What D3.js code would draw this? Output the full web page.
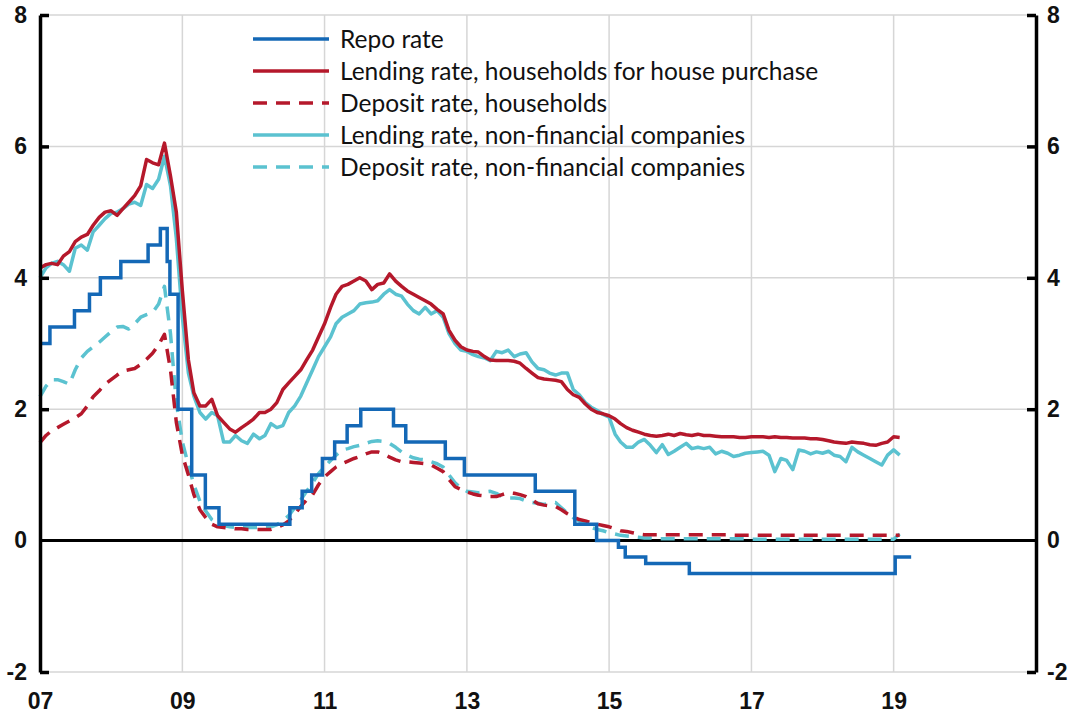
<!DOCTYPE html>
<html>
<head>
<meta charset="utf-8">
<script src="https://cdn.jsdelivr.net/npm/d3@7"></script>
<style>
  body { margin: 0; background: #fff; }
  svg { display: block; font-family: Lato, "Open Sans", sans-serif; }
  .grid line { stroke: #d6d6d6; stroke-width: 1.5; }
  .axis path, .axis line { stroke: #000; stroke-width: 3.5; }
  .axis text { font-size: 23px; font-weight: bold; fill: #111; }
  .legend text { font-size: 24.5px; fill: #111; }
</style>
</head>
<body>
<svg id="chart" width="1073" height="720"></svg>
<script>
// monthly series, Jan 2007 .. Feb 2019
let firstMonth = new Date(2007, 0, 1)

let lendingHouseholds = [
  4.15, 4.2, 4.22, 4.2, 4.33, 4.4, 4.55, 4.62, 4.66, 4.8, 4.92, 5.0,
  5.02, 4.95, 5.05, 5.15, 5.25, 5.4, 5.8, 5.75, 5.72, 6.05, 5.55, 5.0,
  3.8, 2.75, 2.25, 2.05, 2.05, 2.15, 1.9, 1.8, 1.7, 1.65, 1.72, 1.78,
  1.85, 1.95, 1.95, 2.0, 2.1, 2.3, 2.4, 2.5, 2.6, 2.75, 2.9, 3.1,
  3.3, 3.55, 3.75, 3.87, 3.9, 3.95, 4.0, 3.95, 3.82, 3.9, 3.92, 4.06,
  3.95, 3.87, 3.8, 3.75, 3.7, 3.65, 3.6, 3.52, 3.45, 3.2, 3.05, 2.95,
  2.9, 2.88, 2.87, 2.8, 2.75, 2.74, 2.74, 2.74, 2.73, 2.7, 2.62, 2.55,
  2.48, 2.46, 2.45, 2.44, 2.42, 2.3, 2.22, 2.18, 2.08, 2.0, 1.95, 1.93,
  1.9, 1.85, 1.78, 1.72, 1.68, 1.65, 1.62, 1.6, 1.59, 1.6, 1.62, 1.6,
  1.63, 1.61, 1.6, 1.62, 1.6, 1.6, 1.59, 1.58, 1.58, 1.58, 1.57, 1.57,
  1.58, 1.58, 1.58, 1.57, 1.58, 1.57, 1.57, 1.56, 1.56, 1.56, 1.55, 1.55,
  1.54, 1.52, 1.5, 1.49, 1.48, 1.5, 1.49, 1.48, 1.46, 1.45, 1.48, 1.5,
  1.58, 1.57
]

let depositHouseholds = [
  1.49, 1.6, 1.67, 1.72, 1.77, 1.82, 1.87, 1.93, 2.05, 2.19, 2.28, 2.38,
  2.45, 2.52, 2.58, 2.6, 2.62, 2.68, 2.76, 2.85, 2.98, 3.14, 2.6, 1.8,
  1.3, 1.0, 0.7, 0.47, 0.35, 0.25, 0.21, 0.2, 0.19, 0.18, 0.18, 0.17,
  0.17, 0.17, 0.17, 0.17, 0.2, 0.24, 0.3, 0.4, 0.52, 0.62, 0.7, 0.85,
  0.97, 1.05, 1.12, 1.17, 1.21, 1.25, 1.28, 1.32, 1.35, 1.35, 1.32, 1.27,
  1.23, 1.2, 1.2, 1.19, 1.18, 1.17, 1.15, 1.1, 1.05, 0.93, 0.82, 0.78,
  0.74, 0.71, 0.69, 0.68, 0.67, 0.67, 0.7, 0.73, 0.72, 0.7, 0.67, 0.62,
  0.56, 0.54, 0.53, 0.52, 0.47, 0.41, 0.36, 0.32, 0.3, 0.27, 0.25, 0.23,
  0.21, 0.18, 0.15, 0.14, 0.12, 0.1, 0.09, 0.09, 0.09, 0.09, 0.09, 0.09,
  0.09, 0.09, 0.09, 0.09, 0.09, 0.09, 0.09, 0.09, 0.09, 0.08, 0.08, 0.08,
  0.08, 0.08, 0.08, 0.08, 0.08, 0.08, 0.08, 0.08, 0.08, 0.08, 0.08, 0.08,
  0.08, 0.08, 0.08, 0.08, 0.08, 0.08, 0.08, 0.08, 0.08, 0.08, 0.08, 0.08,
  0.08, 0.08
]

let lendingCompanies = [
  4.0, 4.15, 4.22, 4.25, 4.2, 4.1, 4.45, 4.5, 4.42, 4.7, 4.8, 4.9,
  4.98, 5.0, 5.05, 5.12, 5.15, 5.1, 5.42, 5.36, 5.5, 5.85, 5.4, 4.6,
  3.4, 2.55, 2.2, 1.95, 1.85, 1.95, 1.9, 1.5, 1.5, 1.6, 1.52, 1.48,
  1.62, 1.55, 1.6, 1.78, 1.72, 1.75, 1.95, 2.05, 2.2, 2.4, 2.6, 2.8,
  2.95, 3.1, 3.3, 3.4, 3.45, 3.5, 3.6, 3.62, 3.63, 3.65, 3.75, 3.82,
  3.75, 3.72, 3.6, 3.5, 3.45, 3.55, 3.45, 3.5, 3.4, 3.15, 3.0, 2.9,
  2.88, 2.83, 2.8, 2.78, 2.74, 2.88, 2.86, 2.9, 2.8, 2.84, 2.86, 2.72,
  2.62, 2.6, 2.55, 2.52, 2.55, 2.55, 2.3, 2.22, 2.1, 2.03, 1.98, 1.92,
  1.88, 1.62, 1.5, 1.42, 1.42, 1.5, 1.54, 1.45, 1.34, 1.46, 1.31, 1.36,
  1.42, 1.48, 1.4, 1.42, 1.4, 1.42, 1.32, 1.36, 1.33, 1.28, 1.3, 1.33,
  1.34, 1.35, 1.36, 1.3, 1.05, 1.25, 1.22, 1.08, 1.38, 1.36, 1.32, 1.35,
  1.33, 1.36, 1.3, 1.28, 1.2, 1.42, 1.35, 1.3, 1.25, 1.2, 1.15, 1.3,
  1.38, 1.3
]

let depositCompanies = [
  2.19, 2.35, 2.45, 2.45, 2.42, 2.38, 2.6, 2.78, 2.88, 2.95, 3.02, 3.1,
  3.18, 3.25, 3.26, 3.22, 3.3, 3.4, 3.44, 3.47, 3.6, 3.87, 3.15, 2.1,
  1.5, 1.15, 0.85, 0.6, 0.45, 0.32, 0.26, 0.23, 0.21, 0.2, 0.2, 0.2,
  0.2, 0.2, 0.2, 0.21, 0.24, 0.3, 0.38, 0.5, 0.62, 0.75, 0.88, 1.02,
  1.12, 1.22, 1.3, 1.38, 1.4, 1.43, 1.45, 1.48, 1.51, 1.52, 1.51, 1.48,
  1.42, 1.35, 1.3, 1.26, 1.24, 1.23, 1.2, 1.17, 1.12, 1.0, 0.88, 0.8,
  0.75, 0.74, 0.73, 0.74, 0.75, 0.72, 0.67, 0.65, 0.65, 0.64, 0.6, 0.58,
  0.57, 0.55, 0.57, 0.58, 0.5, 0.42, 0.35, 0.3, 0.25, 0.2, 0.17, 0.15,
  0.12, 0.1, 0.08, 0.07, 0.06, 0.05, 0.04, 0.04, 0.03, 0.03, 0.03, 0.03,
  0.03, 0.03, 0.03, 0.03, 0.03, 0.03, 0.03, 0.03, 0.03, 0.03, 0.03, 0.03,
  0.02, 0.02, 0.02, 0.02, 0.02, 0.02, 0.02, 0.02, 0.02, 0.02, 0.02, 0.02,
  0.02, 0.02, 0.02, 0.02, 0.02, 0.02, 0.02, 0.02, 0.02, 0.02, 0.02, 0.02,
  0.02, 0.1
]

// repo rate: dates of change and new level (step line)
let repoDates = [
  '2007-01-01', '2007-02-21', '2007-06-27', '2007-09-12', '2007-11-07',
  '2008-02-20', '2008-07-09', '2008-09-10', '2008-10-15', '2008-10-29',
  '2008-12-10', '2009-02-18', '2009-04-29', '2009-07-08', '2010-07-07',
  '2010-09-08', '2010-10-27', '2010-12-21', '2011-02-22', '2011-04-27',
  '2011-07-06', '2011-12-21', '2012-02-22', '2012-09-12', '2012-12-19',
  '2013-12-18', '2014-07-09', '2014-10-29', '2015-02-18', '2015-03-25',
  '2015-07-08', '2016-02-17', '2019-01-09', '2019-04-01'
]
let repoValues = [
  3.0, 3.25, 3.5, 3.75, 4.0,
  4.25, 4.5, 4.75, 4.25, 3.75,
  2.0, 1.0, 0.5, 0.25, 0.5,
  0.75, 1.0, 1.25, 1.5, 1.75,
  2.0, 1.75, 1.5, 1.25, 1.0,
  0.75, 0.25, 0.0, -0.1, -0.25,
  -0.35, -0.5, -0.25, -0.25
]

let yTicks = [-2, 0, 2, 4, 6, 8]
let gridYears = [2009, 2011, 2013, 2015, 2017, 2019]
let labelYears = [2007, 2009, 2011, 2013, 2015, 2017, 2019]

let seriesNames = [
  'Repo rate',
  'Lending rate, households for house purchase',
  'Deposit rate, households',
  'Lending rate, non-financial companies',
  'Deposit rate, non-financial companies'
]

let blue = '#1468b6'
let red = '#b5182b'
let cyan = '#5bc2d0'

let svg = d3.select('#chart')

let x = d3.scaleTime()
  .domain([new Date(2007, 0, 1), new Date(2021, 0, 1)])
  .range([40, 1036])

let y = d3.scaleLinear()
  .domain([-2, 8])
  .range([672, 15])

let monthDate = i => d3.timeMonth.offset(firstMonth, i)
let parse = d3.timeParse('%Y-%m-%d')

// gridlines
let grid = svg.append('g').classed('grid', true)

grid.selectAll('.hgrid')
  .data(yTicks.filter(d => d !== 0))
  .enter()
  .append('line')
  .attr('x1', x.range()[0])
  .attr('x2', x.range()[1])
  .attr('y1', d => y(d))
  .attr('y2', d => y(d))

grid.selectAll('.vgrid')
  .data(gridYears)
  .enter()
  .append('line')
  .attr('x1', d => x(new Date(d, 0, 1)))
  .attr('x2', d => x(new Date(d, 0, 1)))
  .attr('y1', y(8))
  .attr('y2', y(-2))

// zero line
svg.append('line')
  .attr('x1', x.range()[0])
  .attr('x2', x.range()[1])
  .attr('y1', y(0))
  .attr('y2', y(0))
  .attr('stroke', '#000')
  .attr('stroke-width', 3)

// series
let monthly = d3.line()
  .x((d, i) => x(monthDate(i)))
  .y(d => y(d))

let series = [
  {values: depositCompanies, color: cyan, dash: '14,9'},
  {values: depositHouseholds, color: red, dash: '14,9'},
  {values: lendingCompanies, color: cyan, dash: null},
  {values: lendingHouseholds, color: red, dash: null}
]

svg.selectAll('.series')
  .data(series)
  .enter()
  .append('path')
  .classed('series', true)
  .attr('d', d => monthly(d.values))
  .attr('fill', 'none')
  .attr('stroke', d => d.color)
  .attr('stroke-width', 3.5)
  .attr('stroke-dasharray', d => d.dash)
  .attr('stroke-linejoin', 'round')

let repoLine = d3.line()
  .curve(d3.curveStepAfter)
  .x((d, i) => x(parse(repoDates[i])))
  .y(d => y(d))

svg.append('path')
  .attr('d', repoLine(repoValues))
  .attr('fill', 'none')
  .attr('stroke', blue)
  .attr('stroke-width', 3.5)

// axes, labels use a plain hyphen for negatives
let plain = d => String(d)

let leftAxis = svg.append('g')
  .classed('axis', true)
  .attr('transform', `translate(${x.range()[0]},0)`)
  .call(d3.axisLeft(y).tickValues(yTicks).tickFormat(plain)
    .tickSize(-9).tickSizeOuter(0).tickPadding(13))

let rightAxis = svg.append('g')
  .classed('axis', true)
  .attr('transform', `translate(${x.range()[1]},0)`)
  .call(d3.axisRight(y).tickValues(yTicks).tickFormat(plain)
    .tickSize(-9).tickSizeOuter(0).tickPadding(11))

// no tick stub at the zero line, it is drawn across
leftAxis.selectAll('.tick').filter(d => d === 0).select('line').remove()
rightAxis.selectAll('.tick').filter(d => d === 0).select('line').remove()

let bottomAxis = svg.append('g')
  .classed('axis', true)
  .attr('transform', `translate(0,${y(-2)})`)
  .call(d3.axisBottom(x)
    .tickValues(labelYears.map(d => new Date(d, 0, 1)))
    .tickFormat(d3.timeFormat('%y'))
    .tickSize(0)
    .tickPadding(21))
bottomAxis.select('.domain').remove()

svg.selectAll('.axis text').attr('font-family', null).attr('font-size', null)

// legend
let legendStyles = [
  {color: blue, dash: null},
  {color: red, dash: null},
  {color: red, dash: '14,9'},
  {color: cyan, dash: null},
  {color: cyan, dash: '14,9'}
]

let legend = svg.append('g')
  .classed('legend', true)
  .selectAll('g')
  .data(seriesNames)
  .enter()
  .append('g')
  .attr('transform', (d, i) => `translate(253,${39 + i * 32})`)

legend.append('line')
  .attr('x1', 0)
  .attr('x2', 76)
  .attr('stroke', (d, i) => legendStyles[i].color)
  .attr('stroke-dasharray', (d, i) => legendStyles[i].dash)
  .attr('stroke-width', 3.5)

legend.append('text')
  .attr('x', 87)
  .attr('dy', '0.35em')
  .text(d => d)
</script>
</body>
</html>
